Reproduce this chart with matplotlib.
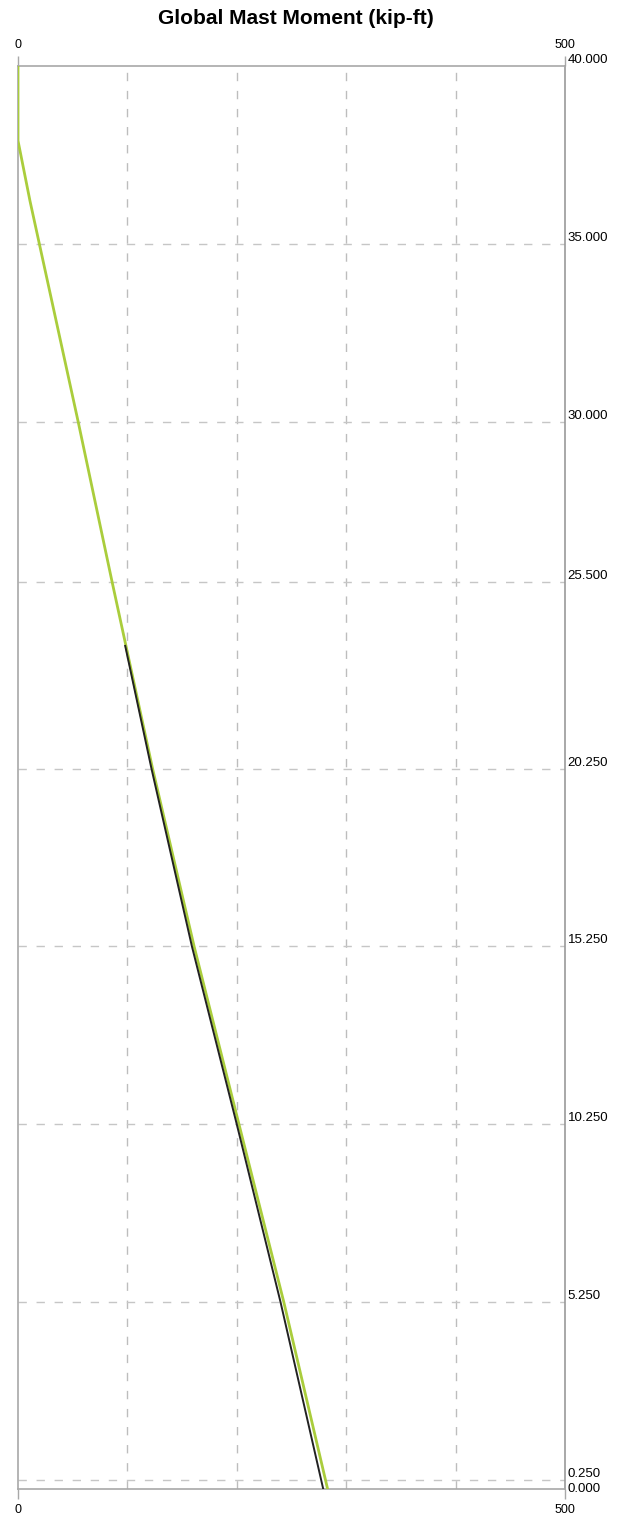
import matplotlib
matplotlib.use("Agg")
import matplotlib.pyplot as plt
import numpy as np

plt.rcParams['font.family'] = ['Liberation Sans', 'DejaVu Sans']

# elevation ticks (right axis) and their labels
y_ticks = [0, 0.25, 5.25, 10.25, 15.25, 20.25, 25.5, 30, 35, 40]
y_labels = ['0.000', '0.250', '5.250', '10.250', '15.250', '20.250', '25.500', '30.000', '35.000', '40.000']

# green series (moment vs elevation)
green_elev = [40, 37.9, 36.2, 30, 25.5, 20.25, 15.25, 10.25, 5.25, 0]
green_mom = [0, 0, 11, 55, 86, 123, 161, 202, 243, 283]

# black series
black_elev = [23.7, 20.25, 15.25, 10.25, 5.25, 0]
black_mom = [98, 122, 159, 200, 240, 279]

fig = plt.figure(figsize=(6.23, 15.2), dpi=100)
ax = fig.add_axes([18/623, 31/1520, 547/623, 1423/1520])

ax.plot(green_mom, green_elev, color='#aacd3c', lw=2.0, zorder=3)
ax.plot(black_mom, black_elev, color='#222222', lw=1.4, zorder=4)

ax.set_xlim(0, 500)
ax.set_ylim(0, 40)

# grid
for xv in [100, 200, 300, 400]:
    ax.axvline(xv, color='#bdbdbd', lw=1, ls=(0, (6, 7)), zorder=1)
for yv in y_ticks[1:-1]:
    ax.axhline(yv, color='#c6c6c6', lw=1, ls=(0, (6, 7)), zorder=1)

for s in ax.spines.values():
    s.set_color('#a8a8a8')
    s.set_linewidth(1.2)
ax.spines['right'].set_color('#999999')

ax.set_xticks([0, 500])
ax.set_xticklabels(['0', '500'])
ax.tick_params(axis='x', which='both', top=True, bottom=True, labeltop=True, labelbottom=True,
               length=7, width=1, color='#a8a8a8', labelsize=9, pad=4)

ax.set_yticks(y_ticks)
ax.set_yticklabels(y_labels)
ax.tick_params(axis='y', left=False, labelleft=False, right=True, labelright=True,
               length=0, labelsize=9.5, pad=2)
for lab in ax.get_yticklabels():
    lab.set_verticalalignment('bottom')
# bottom label sits on the axis line so it does not run into 0.250
ax.get_yticklabels()[0].set_verticalalignment('center')

fig.text(296/623, 1 - 18/1520, 'Global Mast Moment (kip-ft)', ha='center', va='center',
         fontsize=15, fontweight='bold')

fig.savefig('out.png', dpi=100)
